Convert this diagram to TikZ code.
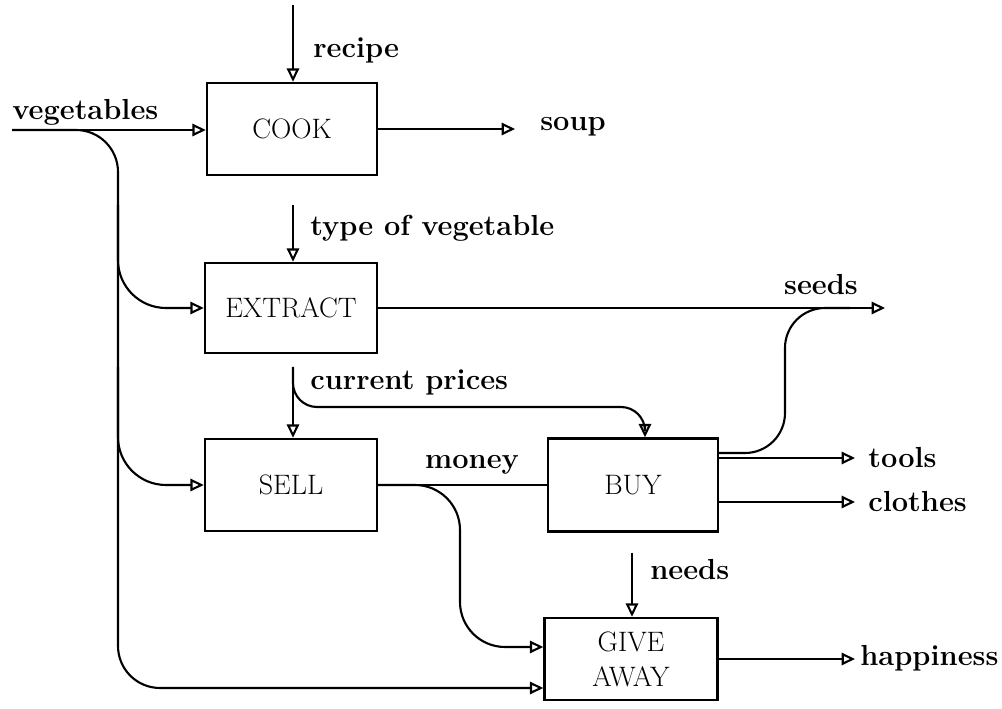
\documentclass[tikz,border=0pt]{standalone}
\usetikzlibrary{arrows.meta}
\newlength{\du}
\setlength{\du}{0.02cm}
\tikzset{
  procbox/.style={draw, line width=1.4pt, minimum width=170\du, minimum height=92\du,
    inner sep=0pt, align=center, font=\fontsize{16}{20}\selectfont},
  flowlabel/.style={anchor=west, inner sep=0pt, font=\fontsize{16.5}{19}\selectfont\bfseries},
  flow/.style={line width=1.2pt, -{Triangle[open, length=7.6pt, width=7pt]}},
  wire/.style={line width=1.2pt},
}
\begin{document}
\begin{tikzpicture}
\pgftransformyscale{-1.000000}
\useasboundingbox (0,0) rectangle (1002\du,709\du);
% boxes
\node[procbox] (cook) at (292\du,129\du){COOK};
\node[procbox, minimum width=172\du, minimum height=90\du] (extract) at (291\du,308\du){EXTRACT};
\node[procbox, minimum width=172\du] (sell) at (291\du,485\du){SELL};
\node[procbox, minimum height=93\du] (buy) at (633\du,485\du){BUY};
\node[procbox, minimum width=173\du, minimum height=82\du] (give) at (631\du,659\du){GIVE\\AWAY};
% labels
\node[flowlabel] (recipe) at (313\du,50\du){recipe};
\node[flowlabel] (veg) at (12\du,112\du){vegetables};
\node[flowlabel] (soup) at (540\du,127\du){soup};
\node[flowlabel] (type) at (310\du,228\du){type of vegetable};
\node[flowlabel, anchor=center] (seeds) at (821\du,285\du){seeds};
\node[flowlabel] (prices) at (310\du,382\du){current prices};
\node[flowlabel, anchor=center] (money) at (472\du,465\du){money};
\node[flowlabel] (tools) at (868\du,458\du){tools};
\node[flowlabel] (clothes) at (868\du,502\du){clothes};
\node[flowlabel] (needs) at (650\du,570\du){needs};
\node[flowlabel] (happy) at (860\du,658\du){happiness};
% free ends and turns
\coordinate (recipe in) at (293\du,5\du);
\coordinate (veg in) at (12\du,130\du);
\coordinate (bus) at (118\du,688\du);
\coordinate (soup out) at (515\du,129\du);
\coordinate (type in) at (293\du,205\du);
\coordinate (seeds out) at (885\du,308\du);
\coordinate (seeds join) at (850\du,308\du);
\coordinate (prices in) at (293\du,367\du);
\coordinate (prices turn) at (645\du,407\du);
\coordinate (money turn) at (460\du,647\du);
\coordinate (buy turn) at (785\du,453\du);
\coordinate (tools out) at (855\du,458\du);
\coordinate (clothes out) at (855\du,502\du);
\coordinate (needs in) at (632\du,553\du);
\coordinate (happy out) at (855\du,659\du);
% connectors
\draw[flow] (recipe in) -- (recipe in |- cook.north);
\draw[flow] (veg in) -- (veg in -| cook.west);
\draw[flow, rounded corners=42\du] (veg in) -| (bus) -- (bus -| give.west);
\draw[flow, rounded corners=48\du] (bus |- type in) |- (extract.west);
\draw[flow, rounded corners=48\du] (bus |- prices in) |- (sell.west);
\draw[flow] (cook.east) -- (soup out);
\draw[flow] (type in) -- (type in |- extract.north);
\draw[flow] (extract.east) -- (seeds out);
\draw[flow] (prices in) -- (prices in |- sell.north);
\draw[flow, rounded corners=24\du] (prices in) |- (prices turn) -- (prices turn |- buy.north);
\draw[wire] (sell.east) -- (buy.west);
\draw[flow, rounded corners=45\du] (sell.east) -| (money turn) -- (money turn -| give.west);
\draw[wire, rounded corners=40\du] (buy turn -| buy.east) -- (buy turn) |- (seeds join);
\draw[flow] (tools out -| buy.east) -- (tools out);
\draw[flow] (clothes out -| buy.east) -- (clothes out);
\draw[flow] (needs in) -- (needs in |- give.north);
\draw[flow] (give.east) -- (happy out);
\end{tikzpicture}
\end{document}
